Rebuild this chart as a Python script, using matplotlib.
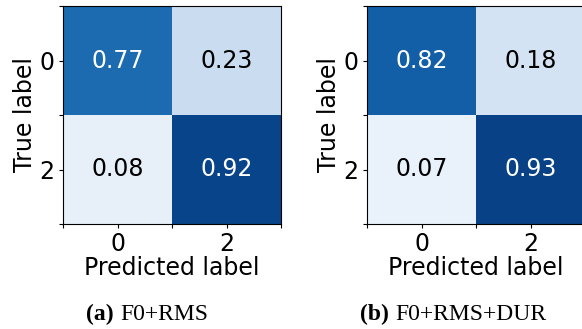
import matplotlib
matplotlib.use("Agg")
import matplotlib.pyplot as plt
import numpy as np

labels = ["0", "2"]
cm_a = [[0.77, 0.23],
        [0.08, 0.92]]
cm_b = [[0.82, 0.18],
        [0.07, 0.93]]
captions = [("(a)", "F0+RMS"), ("(b)", "F0+RMS+DUR")]

plt.rcParams['font.family'] = 'DejaVu Sans'
fs = 17


def plot_cm(ax, cm):
    cm = np.array(cm)
    ax.imshow(cm, cmap='Blues', vmin=0, vmax=1, aspect='auto')
    for i in range(cm.shape[0]):
        for j in range(cm.shape[1]):
            col = 'white' if cm[i, j] > 0.5 else 'black'
            ax.text(j, i, "{:.2f}".format(cm[i, j]), ha='center', va='center',
                    color=col, fontsize=fs)
    ax.set_xticks(range(len(labels)))
    ax.set_yticks(range(len(labels)))
    ax.set_xticklabels(labels, fontsize=fs)
    ax.set_yticklabels(labels, fontsize=fs)
    ax.set_xticks([-0.5, 0.5, 1.5], minor=True)
    ax.set_yticks([-0.5, 0.5, 1.5], minor=True)
    ax.tick_params(which='both', length=3, width=0.8)
    ax.tick_params(which='major', pad=3)
    ax.set_xlim(-0.5, 1.5)
    ax.set_ylim(1.5, -0.5)
    ax.set_xlabel('Predicted label', fontsize=fs, labelpad=0)
    ax.set_ylabel('True label', fontsize=fs, labelpad=2)


fig = plt.figure(figsize=(5.82, 3.29), dpi=100)
W, H = 582.0, 329.0
ax1 = fig.add_axes([63 / W, (H - 224) / H, 218 / W, 218 / H])
ax2 = fig.add_axes([367 / W, (H - 224) / H, 218 / W, 218 / H])
plot_cm(ax1, cm_a)
plot_cm(ax2, cm_b)

# captions under each panel, bold tag + regular text
tag_end = [114, 389]
name_start = [120, 395]
for (tag, name), te, ns in zip(captions, tag_end, name_start):
    fig.text(te / W, 1 - 314 / H, tag, ha='right', va='center',
             fontsize=17, fontweight='bold', family='Liberation Serif')
    fig.text(ns / W, 1 - 314 / H, name, ha='left', va='center',
             fontsize=17, family='Liberation Serif')

plt.savefig('out.png', dpi=100)
